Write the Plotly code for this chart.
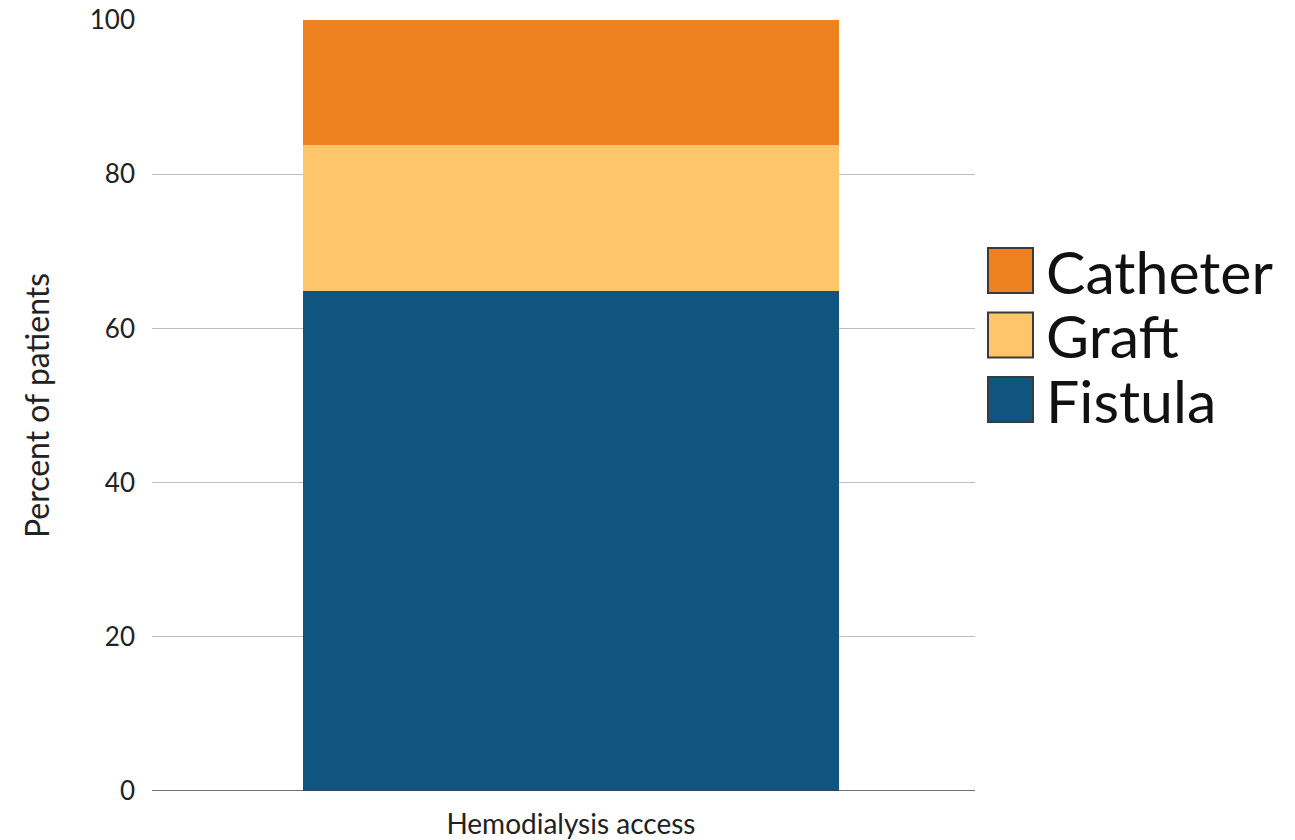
import plotly.graph_objects as go

categories = ["Hemodialysis access"]
series_names = ["Fistula", "Graft", "Catheter"]
series_values = {
    "Fistula": [64.8],
    "Graft": [19.0],
    "Catheter": [16.2],
}
series_colors = {
    "Fistula": "#0F5580",
    "Graft": "#FEC668",
    "Catheter": "#EE8220",
}
y_ticks = [0, 20, 40, 60, 80, 100]

FONT = "Lato"
W, H = 1295, 840
ML, MR, MT, MB = 152, 320, 20, 49
PW = W - ML - MR
PH = H - MT - MB

fig = go.Figure()
for name in series_names:
    fig.add_trace(go.Bar(
        x=categories, y=series_values[name], name=name,
        marker=dict(color=series_colors[name], line=dict(width=0)),
        width=0.651, showlegend=False,
    ))

# custom legend with large swatches
legend_order = list(reversed(series_names))
sw_x0, sw_w = 988, 45
top0, step = 248, 64.5
shapes = []
for i, name in enumerate(legend_order):
    y0 = top0 + i * step
    y1 = y0 + sw_w
    shapes.append(dict(type="rect", xref="paper", yref="paper",
                       x0=(sw_x0 - ML) / PW, x1=(sw_x0 + sw_w - ML) / PW,
                       y0=(H - MB - y1) / PH, y1=(H - MB - y0) / PH,
                       fillcolor=series_colors[name], line=dict(color="#3a3a3a", width=2)))
    fig.add_annotation(xref="paper", yref="paper",
                       x=(1044 - ML) / PW, y=(H - MB - (y0 + y1) / 2) / PH,
                       text=name, showarrow=False, xanchor="left", yanchor="middle",
                       height=60, valign="middle",
                       font=dict(family=FONT, size=59, color="#111111"))

shapes.append(dict(type="line", xref="paper", yref="y", x0=0, x1=1, y0=0, y1=0,
                   line=dict(color="#404040", width=1.5)))

fig.update_layout(
    width=W, height=H,
    margin=dict(l=ML, r=MR, t=MT, b=MB),
    paper_bgcolor="white", plot_bgcolor="white",
    barmode="stack",
    font=dict(family=FONT, color="#222222"),
    xaxis=dict(
        showgrid=False, showline=False, zeroline=False,
        tickfont=dict(family=FONT, size=28, color="#222222"),
        ticks="", range=[-0.509, 0.491], ticklabelstandoff=14,
        automargin=False,
    ),
    yaxis=dict(
        range=[0, 100], tickvals=y_ticks,
        showgrid=True, gridcolor="#BFBFBF", gridwidth=1,
        zeroline=False, showline=False,
        tickfont=dict(family=FONT, size=26, color="#222222"),
        ticklabelstandoff=16, automargin=False, ticklabeloverflow="allow",
        title=dict(text="Percent of patients", font=dict(family=FONT, size=32, color="#222222"), standoff=30),
    ),
    shapes=shapes,
)

fig.write_html("out.html", config={"displayModeBar": False},
               post_script="document.body.style.margin='0';")
